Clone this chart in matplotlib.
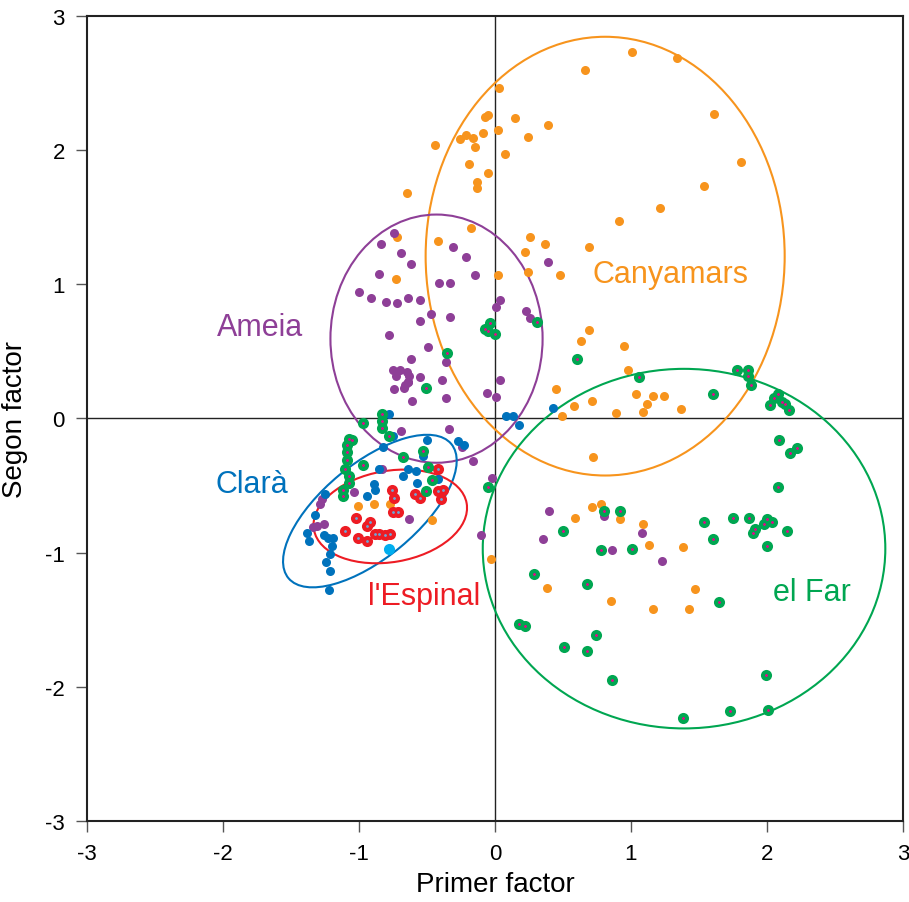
import matplotlib
matplotlib.use('Agg')
import matplotlib.pyplot as plt
from matplotlib.patches import Ellipse

# Canyamars
cany_x = [-1.01, -0.89, -0.77, -0.46, -0.03,
          -0.72, -0.42, -0.18, -0.73, 0.02, 0.26, 0.22, 0.37, 0.24,
          0.03, -0.05, -0.07, 0.02, 0.15, 0.39, 0.24, 0.07, -0.09, -0.16, -0.21, -0.26,
          -0.15, -0.19, -0.05, -0.13, -0.13, -0.44, -0.65, 0.66, 1.01, 1.34, 1.61, 1.54,
          1.21, 0.91, 1.81,
          0.69, 0.48, 0.69, 0.63, 0.95, 0.98, 0.45, 0.58, 0.49, 0.71, 0.89, 1.04, 1.12,
          1.09, 1.16, 1.24, 1.37,
          0.72, 0.71, 0.78, 0.59, 0.92, 1.09, 1.13, 1.38, 0.38, 0.85, 1.16, 1.43, 1.47]
cany_y = [-0.65, -0.64, -0.64, -0.76, -1.05,
          1.35, 1.32, 1.42, 1.04, 1.07, 1.35, 1.24, 1.30, 1.09,
          2.46, 2.26, 2.25, 2.15, 2.24, 2.19, 2.10, 1.97, 2.13, 2.09, 2.11, 2.08,
          2.02, 1.90, 1.83, 1.76, 1.72, 2.04, 1.68, 2.60, 2.73, 2.69, 2.27, 1.73,
          1.57, 1.47, 1.91,
          1.28, 1.07, 0.66, 0.58, 0.54, 0.36, 0.22, 0.09, 0.02, 0.13, 0.04, 0.18, 0.11,
          0.05, 0.17, 0.17, 0.07,
          -0.29, -0.66, -0.64, -0.74, -0.75, -0.79, -0.94, -0.96, -1.26, -1.36, -1.42, -1.42, -1.27]

# Ameia
ameia_x = [-0.74, -0.66, -0.64, -0.67, -0.61, -0.36, -0.06, 0.01, -0.69, -0.34, -0.24,
           -0.16, -0.02, -1.04, -1.27, -1.29, -1.31, -1.34, -1.26, -0.63, -0.10, -0.83,
           -0.74, -0.84, -0.69, -0.31, -0.21, -0.62, -0.85, -0.15, -0.41, -0.33, -1.00,
           -0.91, -0.80, -0.72, -0.64, -0.55, -0.47, -0.33, -0.55, -0.78, 0.04, 0.01,
           0.23, 0.26, 0.39, -0.49, -0.62, -0.36, -0.75, -0.70, -0.65, -0.63, -0.73,
           -0.64, -0.55, -0.39, 0.04,
           0.40, 0.35, 0.80, 1.08, 0.86, 1.23]
ameia_y = [0.22, 0.25, 0.27, 0.23, 0.13, 0.15, 0.19, 0.16, -0.09, -0.08, -0.21,
           -0.32, -0.44, -0.55, -0.60, -0.64, -0.80, -0.81, -0.79, -0.75, -0.87, -0.38,
           1.38, 1.30, 1.23, 1.28, 1.20, 1.15, 1.08, 1.07, 1.01, 1.01, 0.94,
           0.90, 0.87, 0.86, 0.90, 0.88, 0.78, 0.76, 0.73, 0.62, 0.88, 0.83,
           0.80, 0.75, 1.17, 0.53, 0.44, 0.42, 0.36, 0.36, 0.35, 0.32, 0.32,
           0.27, 0.31, 0.29, 0.29,
           -0.69, -0.90, -0.73, -0.85, -0.98, -1.06]

# Clarà
clara_x = [-0.78, -0.75, -0.50, -0.27, -0.23, -0.82, -0.53, -0.85, -0.64, -0.58, -0.68,
           -0.57, -0.89, -0.88, -0.94, -0.42, -1.25, -1.32, -1.38, -1.37, -1.26, -1.23,
           -1.19, -1.20, -1.21, -1.24, -1.21, -1.22, 0.08, 0.13, 0.18, 0.43]
clara_y = [0.03, -0.13, -0.16, -0.17, -0.20, -0.21, -0.28, -0.38, -0.38, -0.39, -0.43,
           -0.48, -0.49, -0.53, -0.58, -0.45, -0.56, -0.72, -0.85, -0.91, -0.87, -0.89,
           -0.89, -0.95, -1.01, -1.07, -1.14, -1.28, 0.02, 0.02, -0.05, 0.08]
clara_extra_x = [-0.78]
clara_extra_y = [-0.97]

# l'Espinal
esp_x = [-0.42, -0.76, -0.74, -0.59, -0.55, -0.42, -0.38, -0.40, -0.75, -0.71,
         -1.02, -0.92, -0.94, -1.10, -1.01, -0.94, -0.88, -0.85, -0.81, -0.77]
esp_y = [-0.38, -0.53, -0.59, -0.56, -0.59, -0.54, -0.53, -0.60, -0.70, -0.70,
         -0.74, -0.77, -0.80, -0.84, -0.89, -0.91, -0.86, -0.86, -0.87, -0.86]

# el Far
far_x = [-0.51, -0.83, -0.83, -0.83, -0.97, -0.78, -1.07, -1.05, -1.09, -1.09, -1.09,
         -1.10, -0.97, -1.07, -1.07, -1.12, -1.12, -0.68, -0.53, -0.49, -0.46, -0.51,
         -0.04, -0.07, -0.05, 0.00, 0.31, -0.35,
         0.60, 1.06, 1.60, 1.78, 1.86, 1.86, 1.88, 2.02, 2.05, 2.08, 2.11, 2.13, 2.16,
         2.09, 2.17, 2.22, 2.08, -0.05, 0.80, 0.92, 0.50, 0.78, 1.01, 1.54, 1.60, 1.75,
         1.87, 1.91, 1.90, 1.98, 2.00, 2.04, 2.15, 2.00, 0.29, 0.68, 1.65, 0.18, 0.22,
         0.74, 0.51, 0.68, 0.86, 1.99, 1.38, 1.73, 2.01]
far_y = [0.225, 0.03, -0.02, -0.07, -0.03, -0.13, -0.15, -0.16, -0.20, -0.25, -0.31,
         -0.38, -0.35, -0.43, -0.48, -0.53, -0.58, -0.29, -0.24, -0.36, -0.46, -0.54,
         0.71, 0.67, 0.65, 0.63, 0.72, 0.49,
         0.44, 0.31, 0.18, 0.36, 0.36, 0.32, 0.25, 0.10, 0.15, 0.18, 0.12, 0.11, 0.06,
         -0.16, -0.26, -0.22, -0.51, -0.51, -0.69, -0.69, -0.84, -0.98, -0.97, -0.77, -0.90, -0.74,
         -0.74, -0.82, -0.85, -0.79, -0.75, -0.77, -0.84, -0.95, -1.16, -1.23, -1.37, -1.53, -1.55,
         -1.61, -1.70, -1.73, -1.95, -1.91, -2.23, -2.18, -2.17]

orange = '#F7941D'
purple = '#8E3F97'
blue = '#0072BC'
red = '#ED1C24'
green = '#00A651'
magenta = '#EC008C'

plt.rcParams['font.family'] = ['Liberation Sans', 'DejaVu Sans']

fig = plt.figure(figsize=(9.09, 9.03), dpi=100)
ax = fig.add_axes([0.0957, 0.0897, 0.8977, 0.8915])

# axis cross
ax.axhline(0, color='#222222', lw=1.0, zorder=1)
ax.axvline(0, color='#222222', lw=1.0, zorder=1)

# points
ax.plot(cany_x, cany_y, 'o', color=orange, ms=6.5, mec='none', zorder=3)
ax.plot(ameia_x, ameia_y, 'o', color=purple, ms=6.5, mec='none', zorder=3)
ax.plot(clara_x, clara_y, 'o', color=blue, ms=6.5, mec='none', zorder=3)
ax.plot(clara_extra_x, clara_extra_y, 'o', color='#00AEEF', ms=8, mec='none', zorder=3)
ax.plot(esp_x, esp_y, 'o', color=red, ms=8, mec='none', zorder=4)
ax.plot(esp_x, esp_y, '.', color='#6CA7D9', ms=2, zorder=5)
ax.plot(far_x, far_y, 'o', color=green, ms=8, mec='none', zorder=4)
ax.plot(far_x, far_y, '.', color=magenta, ms=2, zorder=5)

# ellipses
ellipses = [
    ((0.81, 1.21), 2.64, 3.27, 0, orange),
    ((-0.43, 0.595), 1.56, 1.85, 0, purple),
    ((1.39, -0.97), 2.96, 2.68, 0, green),
    ((-0.92, -0.69), 1.56, 0.70, 40, blue),
    ((-0.77, -0.73), 1.14, 0.68, 10, red),
]
for center, w, h, ang, c in ellipses:
    ax.add_patch(Ellipse(center, w, h, angle=ang, fill=False, edgecolor=c, lw=1.5, zorder=2))

# group labels
ax.text(1.29, 1.08, 'Canyamars', color=orange, fontsize=22, ha='center', va='center')
ax.text(-1.73, 0.68, 'Ameia', color=purple, fontsize=22, ha='center', va='center')
ax.text(-1.79, -0.49, 'Clarà', color=blue, fontsize=22, ha='center', va='center')
ax.text(-0.52, -1.32, "l'Espinal", color=red, fontsize=22, ha='center', va='center')
ax.text(2.33, -1.29, 'el Far', color=green, fontsize=22, ha='center', va='center')

ax.set_xlim(-3, 3)
ax.set_ylim(-3, 3)
ticks = [-3, -2, -1, 0, 1, 2, 3]
tick_labels = ['-3', '-2', '-1', '0', '1', '2', '3']
ax.set_xticks(ticks)
ax.set_yticks(ticks)
ax.set_xticklabels(tick_labels, family=['Liberation Sans Narrow', 'Liberation Sans'])
ax.set_yticklabels(tick_labels, family=['Liberation Sans Narrow', 'Liberation Sans'])
ax.tick_params(direction='out', length=8, width=1, color='#555555', labelsize=16, pad=8)
for s in ax.spines.values():
    s.set_linewidth(1.5)
    s.set_color('#222222')

ax.set_xlabel('Primer factor', fontsize=20, labelpad=5)
ax.set_ylabel('Segon factor', fontsize=20, labelpad=12)

fig.savefig('out.png', dpi=100)
